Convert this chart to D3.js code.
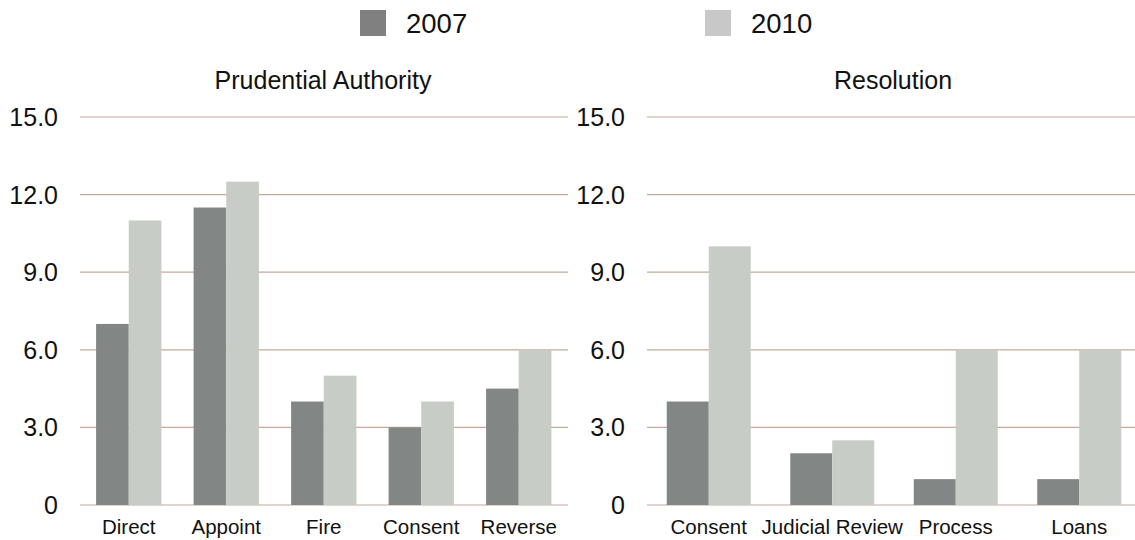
<!DOCTYPE html>
<html><head><meta charset="utf-8">
<script src="https://cdn.jsdelivr.net/npm/d3@7"></script>
<style>body{margin:0;background:#fff;} text{font-family:"Liberation Sans",Arial,sans-serif;fill:#111;}</style>
</head><body>
<svg id="c" width="1135" height="540"></svg>
<script>
const seriesNames = ["2007", "2010"];
const seriesColors = ["#828786", "#c8ccc7"];
const legendColors = ["#808080", "#c8c8c8"];
const leftTitle = "Prudential Authority";
const leftCategories = ["Direct", "Appoint", "Fire", "Consent", "Reverse"];
const left2007 = [7, 11.5, 4, 3, 4.5];
const left2010 = [11, 12.5, 5, 4, 6];
const rightTitle = "Resolution";
const rightCategories = ["Consent", "Judicial Review", "Process", "Loans"];
const right2007 = [4, 2, 1, 1];
const right2010 = [10, 2.5, 6, 6];
const tickValues = [0, 3, 6, 9, 12, 15];
const tickLabels = ["0", "3.0", "6.0", "9.0", "12.0", "15.0"];

const svg = d3.select("#c");
const y = d3.scaleLinear().domain([0, 15]).range([505, 117]);

function panel(cfg) {
  const g = svg.append("g");
  g.selectAll("line.grid").data(tickValues).join("line")
    .attr("x1", cfg.gridX[0]).attr("x2", cfg.gridX[1])
    .attr("y1", d => y(d)).attr("y2", d => y(d))
    .attr("stroke", "#c9a899").attr("stroke-width", 1.2);
  g.selectAll("text.tick").data(tickValues).join("text")
    .attr("x", cfg.labelX).attr("y", d => y(d) + 9)
    .attr("text-anchor", "end").attr("font-size", 25)
    .text((d, i) => tickLabels[i]);
  const x0 = d3.scaleBand().domain(cfg.cats).range(cfg.range).paddingInner(cfg.pad).paddingOuter(cfg.pad / 2);
  const x1 = d3.scaleBand().domain(seriesNames).range([0, x0.bandwidth()]);
  const data = cfg.cats.map((c, i) => ({c, v: [cfg.a[i], cfg.b[i]]}));
  const grp = g.selectAll("g.cat").data(data).join("g").attr("transform", d => `translate(${x0(d.c)},0)`);
  grp.selectAll("rect").data(d => d.v.map((v, k) => ({k, v}))).join("rect")
    .attr("x", d => x1(seriesNames[d.k])).attr("width", x1.bandwidth())
    .attr("y", d => y(d.v)).attr("height", d => y(0) - y(d.v))
    .attr("fill", d => seriesColors[d.k]);
  g.selectAll("text.cat").data(cfg.cats).join("text")
    .attr("x", d => x0(d) + x0.bandwidth() / 2).attr("y", 534)
    .attr("text-anchor", "middle").attr("font-size", 20.5).text(d => d);
  g.append("text").attr("x", cfg.titleX).attr("y", 89).attr("text-anchor", "middle")
    .attr("font-size", 25).text(cfg.title);
}

panel({cats: leftCategories, a: left2007, b: left2010, range: [80, 567.5], pad: 0.33,
  gridX: [80, 568], labelX: 58, title: leftTitle, titleX: 323});
panel({cats: rightCategories, a: right2007, b: right2010, range: [647, 1141], pad: 0.32,
  gridX: [647, 1135], labelX: 625, title: rightTitle, titleX: 893});

const legX = [360, 705];
seriesNames.forEach((s, i) => {
  svg.append("rect").attr("x", legX[i]).attr("y", 10).attr("width", 26).attr("height", 26).attr("fill", legendColors[i]);
  svg.append("text").attr("x", legX[i] + 46).attr("y", 33).attr("font-size", 27.5).text(s);
});
</script>
</body></html>
